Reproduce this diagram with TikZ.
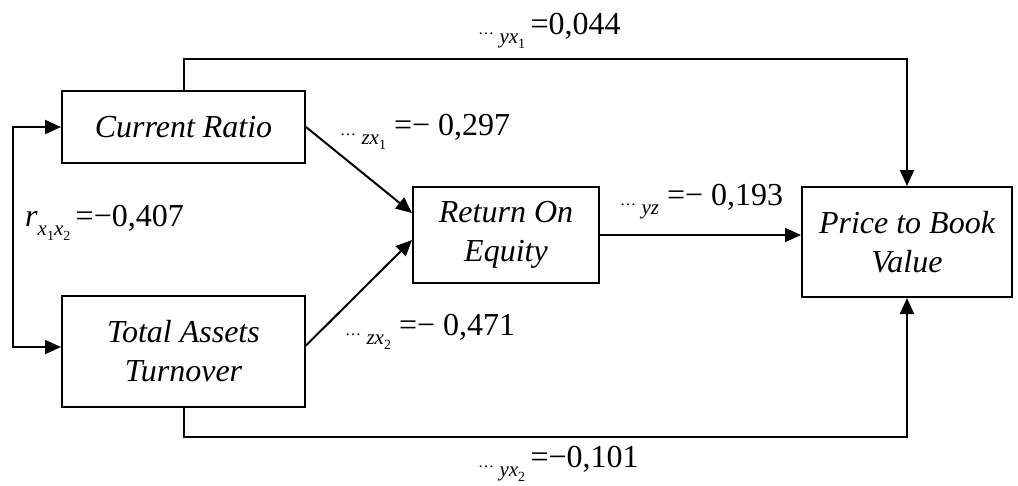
\documentclass[tikz,border=0pt]{standalone}
\usepackage{fontspec}
\setmainfont{Liberation Serif}
\usetikzlibrary{arrows.meta,calc}
\newcommand\dotsym{{\fontsize{16}{16}\selectfont …}}
\newcommand\vsub[1]{\raisebox{-0.3em}{\fontsize{21}{21}\selectfont\itshape #1}}
\newcommand\myvss[1]{\raisebox{-0.22em}{\fontsize{14}{14}\selectfont\upshape #1}}
\begin{document}
\begin{tikzpicture}[x=1pt,y=-1pt,
  box/.style={draw, line width=2pt, align=center, inner sep=0pt,
    font=\fontsize{32}{39}\selectfont\itshape},
  conn/.style={line width=2pt},
  tip/.style={-{Triangle[length=16pt,width=14pt]}},
  tips/.style={{Triangle[length=16pt,width=14pt]}-{Triangle[length=16pt,width=14pt]}},
  lab/.style={anchor=base west, inner sep=0pt, font=\fontsize{32}{32}\selectfont}]
\useasboundingbox (0,0) rectangle (1018,485);
\node[box, minimum width=243pt, minimum height=72pt] (CR) at (183.5,127) {Current Ratio};
\node[box, minimum width=243pt, minimum height=111pt] (TAT) at (183.5,351.5) {Total Assets\\Turnover};
\node[box, minimum width=186pt, minimum height=96pt] (ROE) at (506,235) {Return On\\Equity};
\node[box, minimum width=210pt, minimum height=110pt] (PBV) at (907,242) {Price to Book\\Value};

\draw[conn,tip] (CR.north) -- ++(0,-31) -| (PBV.north);
\draw[conn,tip] (TAT.south) -- ++(0,29) -| (PBV.south);
\draw[conn,tip] (CR.east) -- ($(ROE.west)+(0,-22)$);
\draw[conn,tip] ($(TAT.east)+(0,-6)$) -- ($(ROE.west)+(0,5)$);
\draw[conn,tip] (ROE.east) -- (ROE.east -| PBV.west);
\draw[conn,tips] (CR.west) -- ++(-48,0) |- ($(TAT.west)+(0,-4.5)$);

\node[lab] (l1) at (478,34) {\dotsym\,\vsub{yx\myvss{1}}\,=0,044};
\node[lab] (l2) at (340,135) {\dotsym\,\vsub{zx\myvss{1}}\ =− 0,297};
\node[lab] (l3) at (25,226) {\textit{r}\vsub{x\myvss{1}x\myvss{2}}\,=−0,407};
\node[lab] (l4) at (620,205) {\dotsym\,\vsub{yz}\ =− 0,193};
\node[lab] (l5) at (345,335) {\dotsym\,\vsub{zx\myvss{2}}\ =− 0,471};
\node[lab] (l6) at (478,467) {\dotsym\,\vsub{yx\myvss{2}}\,=−0,101};
\end{tikzpicture}
\end{document}
